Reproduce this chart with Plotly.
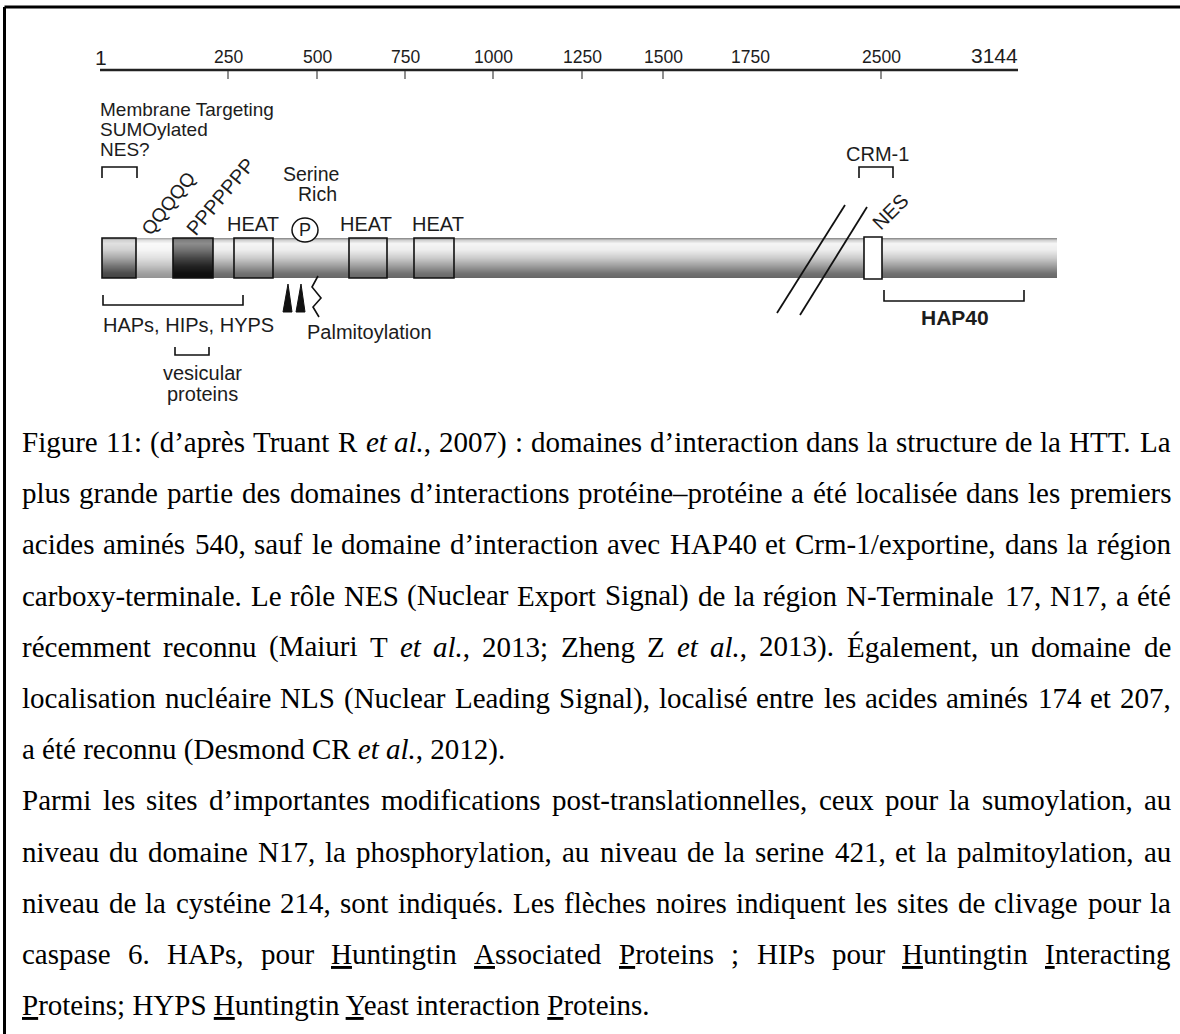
import re
import numpy as np
import plotly.graph_objects as go

# ------------------------------------------------------------------ data
ruler_labels = ["250", "500", "750", "1000", "1250", "1500", "2500"]
ruler_free_labels = ["1750"]
ruler_start_label = "1"
ruler_end_label = "3144"

n_term_labels = ["Membrane Targeting", "SUMOylated", "NES?"]
repeat_labels = ["QQQQQ", "PPPPPPP"]
heat_labels = ["HEAT", "HEAT", "HEAT"]
serine_labels = ["Serine", "Rich"]
phospho_label = "P"
palm_label = "Palmitoylation"
interactor_label = "HAPs, HIPs, HYPS"
vesicular_labels = ["vesicular", "proteins"]
crm_label = "CRM-1"
nes_label = "NES"
hap40_label = "HAP40"

caption_lines = [
    "Figure 11: (d’après Truant R <i>et</i> <i>al.</i>, 2007) : domaines d’interaction dans la structure de la HTT. La",
    "plus grande partie des domaines d’interactions protéine–protéine a été localisée dans les premiers",
    "acides aminés 540, sauf le domaine d’interaction avec HAP40 et Crm-1/exportine, dans la région",
    "carboxy-terminale. Le rôle NES (Nuclear Export Signal) de la région N-Terminale 17, N17, a été",
    "récemment reconnu (Maiuri T <i>et</i> <i>al.</i>, 2013; Zheng Z <i>et</i> <i>al.</i>, 2013). Également, un domaine de",
    "localisation nucléaire NLS (Nuclear Leading Signal), localisé entre les acides aminés 174 et 207,",
    "a été reconnu (Desmond CR <i>et al.</i>, 2012).",
    "Parmi les sites d’importantes modifications post-translationnelles, ceux pour la sumoylation, au",
    "niveau du domaine N17, la phosphorylation, au niveau de la serine 421, et la palmitoylation, au",
    "niveau de la cystéine 214, sont indiqués. Les flèches noires indiquent les sites de clivage  pour la",
    "caspase 6. HAPs, pour <u>H</u>untingtin <u>A</u>ssociated <u>P</u>roteins ; HIPs  pour <u>H</u>untingtin <u>I</u>nteracting",
    "<u>P</u>roteins; HYPS <u>H</u>untingtin <u>Y</u>east interaction <u>P</u>roteins.",
]
caption_justified = [True, True, True, True, True, True, False, True, True, True, True, False]

# ------------------------------------------------------------------ layout (pixel geometry of the schematic)
W, H = 1180, 1034
ruler_x = [228, 317, 405, 493, 582, 663, 881]
ruler_free_x = [750]
ruler_y, ruler_x0, ruler_x1 = 70, 100, 1018
label_y = 57

bar_y0, bar_y1 = 238, 278
seg_edges = [102, 136, 173, 213, 1057]
seg_kind = ["box1", "light", "ppp", "bar"]
box_outlines = [(102, 136), (173, 213), (234, 273), (349, 387), (414, 454)]
nes_box = (864, 882, 237, 279)
heat_label_x = [253, 366, 438]

SANS = "Liberation Sans"
SERIF = "Liberation Serif"
INK = "#1c1c1c"

fig = go.Figure()

# gradient cylinder (heatmap bricks)
profiles_t = [0, 0.06, 0.14, 0.3, 0.5, 0.7, 0.88, 1.0]
profiles = {
    "bar":   [0.50, 0.82, 0.96, 0.93, 0.80, 0.62, 0.45, 0.40],
    "light": [0.62, 0.88, 0.98, 0.96, 0.88, 0.76, 0.63, 0.58],
    "box1":  [0.55, 0.82, 0.88, 0.82, 0.66, 0.46, 0.30, 0.26],
    "ppp":   [0.35, 0.50, 0.55, 0.45, 0.28, 0.14, 0.06, 0.05],
}
nrows = 40
ye = np.linspace(bar_y0, bar_y1, nrows + 1)
tc = (np.arange(nrows) + 0.5) / nrows
z = np.column_stack([np.interp(tc, profiles_t, profiles[k]) for k in seg_kind])
fig.add_trace(go.Heatmap(
    x=seg_edges, y=ye, z=z, zmin=0, zmax=1,
    colorscale=[[0, "#000000"], [1, "#ffffff"]],
    showscale=False, hoverinfo="skip",
))

shapes = []
def line(x0, y0, x1, y1, w=1.6, c="#111"):
    shapes.append(dict(type="line", x0=x0, y0=y0, x1=x1, y1=y1, xref="x", yref="y",
                       line=dict(color=c, width=w)))

def path(d, fill=None, w=1.6, c="#111"):
    s = dict(type="path", path=d, xref="x", yref="y", line=dict(color=c, width=w))
    if fill:
        s["fillcolor"] = fill
    shapes.append(s)

# page frame
line(4.5, 7, W, 7, w=3, c="#000")
line(4.5, 7, 4.5, H, w=3, c="#000")

# ruler
line(ruler_x0, ruler_y, ruler_x1, ruler_y, w=2.5, c="#222")
for x in ruler_x:
    line(x, ruler_y + 1, x, ruler_y + 9, w=1.2, c="#444")

# domain boxes
for x0, x1 in box_outlines:
    shapes.append(dict(type="rect", x0=x0, x1=x1, y0=bar_y0, y1=bar_y1, xref="x", yref="y",
                       line=dict(color="#111", width=1.6)))
shapes.append(dict(type="rect", x0=nes_box[0], x1=nes_box[1], y0=nes_box[2], y1=nes_box[3],
                   xref="x", yref="y", fillcolor="white", line=dict(color="#111", width=1.6)))

# phospho circle
shapes.append(dict(type="circle", x0=292, x1=318, y0=218, y1=242, xref="x", yref="y",
                   fillcolor="white", line=dict(color="#111", width=1.5)))

# caspase cleavage wedges and palmitoylation squiggle
path("M 283 312 L 288 284 L 292 312 Z", fill="#111", w=1)
path("M 296 312 L 301 284 L 305 312 Z", fill="#111", w=1)
path("M 318 276 L 312 287 L 321 298 L 313 307 L 319 317", w=1.6)

# break marks
line(845, 205, 777, 313, w=1.8)
line(867, 207, 800, 315, w=1.8)

# brackets
path("M 102 178 L 102 167 L 137 167 L 137 178")          # N17
path("M 103 295 L 103 305 L 243 305 L 243 295")          # HAPs/HIPs/HYPS
path("M 175 347 L 175 355 L 209 355 L 209 347")          # vesicular
path("M 859 178 L 859 167 L 893 167 L 893 178")          # CRM-1
path("M 884 290 L 884 301 L 1024 301 L 1024 290")        # HAP40

ann = []
def text(x, y, s, size=20, xanchor="center", angle=0, family=SANS, color=INK):
    ann.append(dict(x=x, y=y, text=s, showarrow=False, xref="x", yref="y",
                    xanchor=xanchor, yanchor="middle", textangle=angle,
                    borderpad=0, borderwidth=0,
                    font=dict(family=family, size=size, color=color)))

# ruler labels
text(101, label_y, ruler_start_label, size=21)
text(ruler_x1, 55, ruler_end_label, size=21, xanchor="right")
for x, s in zip(ruler_x, ruler_labels):
    text(x, label_y, s, size=17.5)
for x, s in zip(ruler_free_x, ruler_free_labels):
    text(x, label_y, s, size=17.5)

# N-terminal labels
for yy, s in zip([109.5, 129.5, 149.5], n_term_labels):
    text(100, yy, s, size=19, xanchor="left")

text(168, 203, repeat_labels[0], size=19, angle=-52)
text(220, 197, repeat_labels[1], size=20, angle=-50)
for x, s in zip(heat_label_x, heat_labels):
    text(x, 224, s, size=20)
text(311, 173.5, serine_labels[0], size=19.5)
text(317, 193.5, serine_labels[1], size=19.5)
text(305, 230, phospho_label, size=18)
text(103, 325, interactor_label, size=20, xanchor="left")
text(307, 332, palm_label, size=20, xanchor="left")
text(202, 373, vesicular_labels[0], size=20)
text(202, 394, vesicular_labels[1], size=20)
text(877, 154, crm_label, size=20)
text(890, 212, nes_label, size=20, angle=-45)
text(955, 317, "<b>" + hap40_label + "</b>", size=21)

# ------------------------------------------------------------------ caption (justified with Times metrics)
TIMES = {' ': 250, '(': 333, ')': 333, ',': 250, '-': 333, '.': 250, '/': 278, ':': 278, ';': 278,
         '?': 444, '’': 333, '–': 500,
         'A': 722, 'B': 667, 'C': 667, 'D': 722, 'E': 611, 'F': 556, 'G': 722, 'H': 722, 'I': 333,
         'J': 389, 'K': 722, 'L': 611, 'M': 889, 'N': 722, 'O': 722, 'P': 556, 'Q': 722, 'R': 667,
         'S': 556, 'T': 611, 'U': 722, 'V': 722, 'W': 944, 'X': 722, 'Y': 722, 'Z': 611,
         'a': 444, 'b': 500, 'c': 444, 'd': 500, 'e': 444, 'f': 333, 'g': 500, 'h': 500, 'i': 278,
         'j': 278, 'k': 500, 'l': 278, 'm': 778, 'n': 500, 'o': 500, 'p': 500, 'q': 500, 'r': 333,
         's': 389, 't': 278, 'u': 500, 'v': 500, 'w': 722, 'x': 500, 'y': 500, 'z': 444,
         'é': 444, 'è': 444, 'à': 444, 'ô': 500, 'É': 611, 'ç': 444}
TIMES_IT = {'a': 500, 'l': 278, 't': 278, 'e': 444}

def word_width(word, fs):
    total, italic = 0, False
    for part in re.split(r'(<[^>]+>)', word):
        if part.startswith('<'):
            if part == '<i>':
                italic = True
            elif part == '</i>':
                italic = False
            continue
        for ch in part:
            w = TIMES.get(ch, 500)
            if italic:
                w = TIMES_IT.get(ch, w)
            total += w
    return total * fs / 1000.0

cap_fs = 29
cap_left, cap_right = 22, 1171
cap_y0, cap_dy = 442, 51.2

for i, (ln, just) in enumerate(zip(caption_lines, caption_justified)):
    y = cap_y0 + i * cap_dy
    if just:
        words = ln.split()
        widths = [word_width(w, cap_fs) for w in words]
        gap = (cap_right - cap_left - sum(widths)) / (len(words) - 1)
        x = cap_left
        for w, wd in zip(words, widths):
            text(x, y, w, size=cap_fs, xanchor="left", family=SERIF, color="#000")
            x += wd + gap
    else:
        text(cap_left, y, ln, size=cap_fs, xanchor="left", family=SERIF, color="#000")

fig.update_layout(
    width=W, height=H,
    margin=dict(l=0, r=0, t=0, b=0),
    paper_bgcolor="white", plot_bgcolor="white",
    xaxis=dict(range=[0, W], visible=False, fixedrange=True),
    yaxis=dict(range=[H, 0], visible=False, fixedrange=True),
    shapes=shapes, annotations=ann, showlegend=False,
)

fig.write_html("out.html", config={"displayModeBar": False},
               post_script="document.body.style.margin='0px';document.body.style.overflow='hidden';")
